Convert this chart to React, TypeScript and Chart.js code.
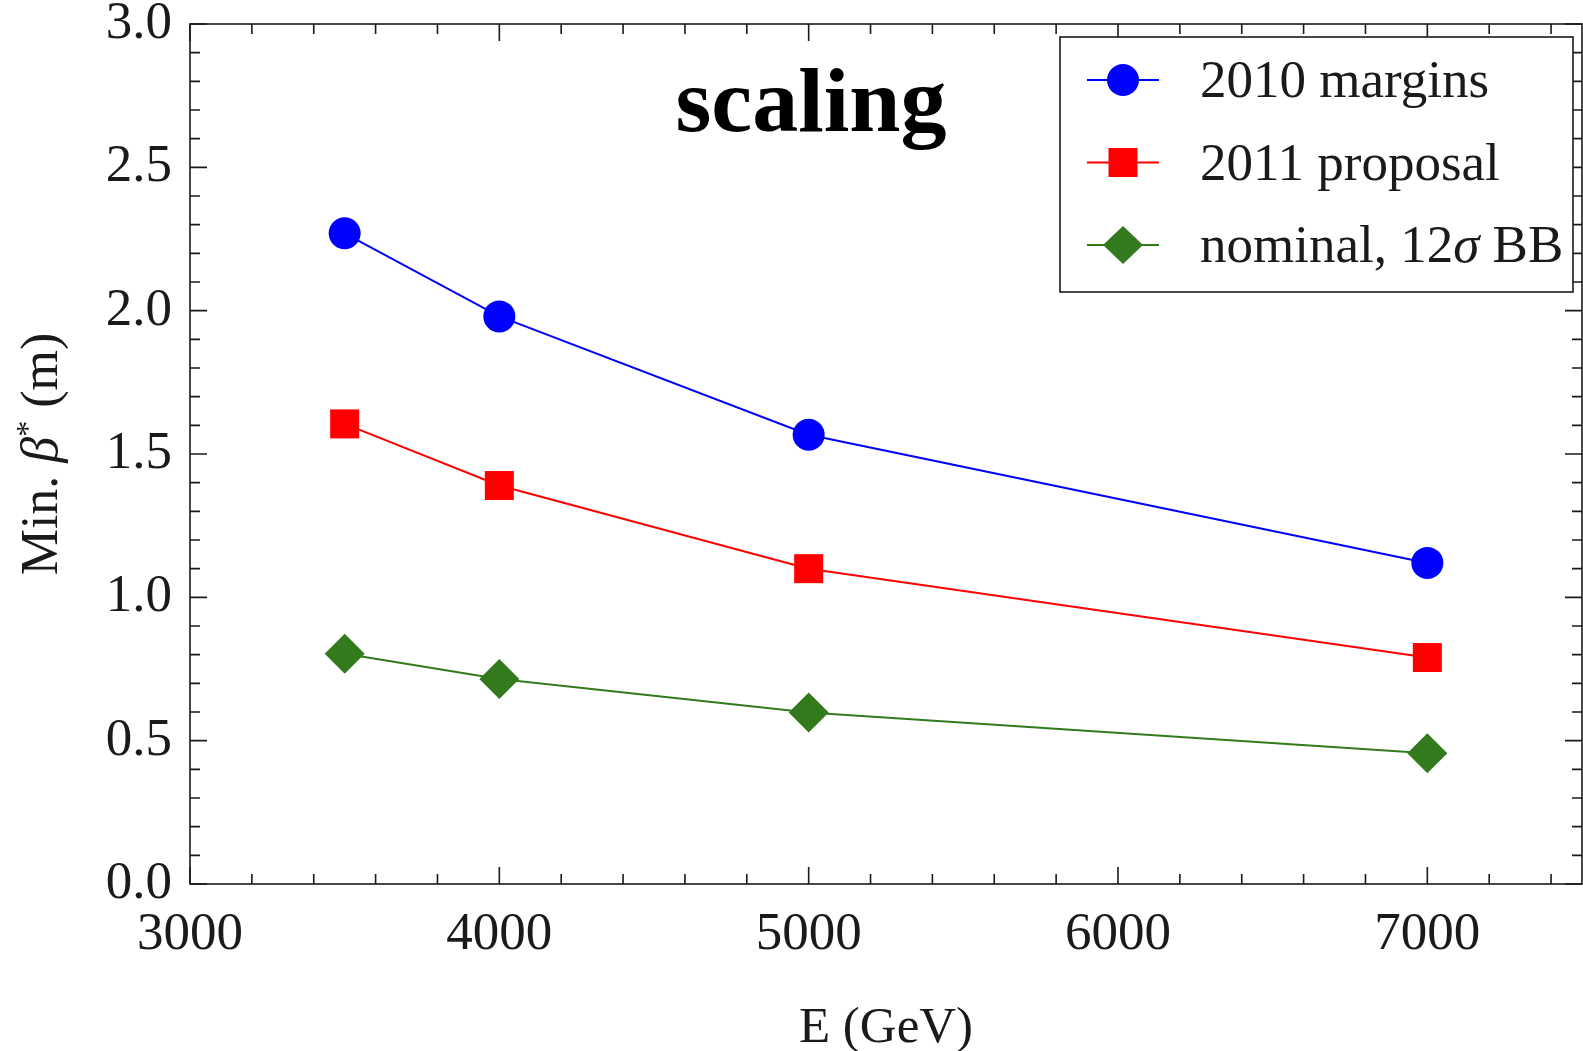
import React, { useEffect, useRef } from 'react';
import { Chart, registerables } from 'chart.js';

Chart.register(...registerables);

// ---- data ----
const energies = [3500, 4000, 5000, 7000];
const margins2010 = [2.27, 1.98, 1.567, 1.12];
const proposal2011 = [1.605, 1.39, 1.1, 0.79];
const nominal12sigma = [0.803, 0.715, 0.598, 0.456];
const seriesNames = ['2010 margins', '2011 proposal', 'nominal, 12σ BB'];
const xTickValues = [3000, 4000, 5000, 6000, 7000];
const yTickValues = [0, 0.5, 1.0, 1.5, 2.0, 2.5, 3.0];
const chartTitle = 'scaling';
const xTitle = 'E (GeV)';
const yTitle = 'Min. β* (m)';

const SERIF = '"Liberation Serif", "Times New Roman", Times, serif';
const INK = '#1a1a1a';
const GREEN = '#327a1c';

type Seg = { text: string; kind: 'n' | 'i' | 's' };

function richSegments(text: string): Seg[] {
  const segs: Seg[] = [];
  for (const ch of text) {
    let kind: Seg['kind'] = 'n';
    if (/[α-ω]/.test(ch)) kind = 'i';
    else if (ch === '*') kind = 's';
    const last = segs[segs.length - 1];
    if (last && last.kind === kind) last.text += ch;
    else segs.push({ text: ch, kind });
  }
  return segs;
}

function fontFor(kind: Seg['kind'], size: number) {
  if (kind === 'i') return `italic ${size}px ${SERIF}`;
  if (kind === 's') return `${Math.round(size * 0.62)}px ${SERIF}`;
  return `${size}px ${SERIF}`;
}

function drawRich(ctx: CanvasRenderingContext2D, text: string, x: number, y: number, size: number, align: 'left' | 'center') {
  const segs = richSegments(text);
  const widths = segs.map((s) => {
    ctx.font = fontFor(s.kind, size);
    return ctx.measureText(s.text).width;
  });
  const total = widths.reduce((a, b) => a + b, 0);
  let cx = align === 'center' ? x - total / 2 : x;
  ctx.textAlign = 'left';
  ctx.textBaseline = 'alphabetic';
  segs.forEach((s, i) => {
    ctx.font = fontFor(s.kind, size);
    ctx.fillText(s.text, cx, s.kind === 's' ? y - size * 0.36 : y);
    cx += widths[i];
  });
}

function drawMarker(ctx: CanvasRenderingContext2D, style: string, x: number, y: number, color: string) {
  ctx.fillStyle = color;
  ctx.beginPath();
  if (style === 'circle') {
    ctx.arc(x, y, 16, 0, Math.PI * 2);
  } else if (style === 'rect') {
    ctx.rect(x - 14.5, y - 14.5, 29, 29);
  } else {
    ctx.moveTo(x - 20, y);
    ctx.lineTo(x, y - 19);
    ctx.lineTo(x + 20, y);
    ctx.lineTo(x, y + 19);
    ctx.closePath();
  }
  ctx.fill();
}

const framePlugin = {
  id: 'frameTicks',
  beforeDatasetsDraw(chart: any) {
    const { ctx, chartArea } = chart;
    const xs = chart.scales.x;
    const ys = chart.scales.y;
    const { left, right, top, bottom } = chartArea;
    ctx.save();
    ctx.strokeStyle = INK;
    ctx.lineWidth = 1.6;
    ctx.beginPath();
    for (let v = 3000; v < 7500; v += 200) {
      const px = xs.getPixelForValue(v);
      const len = v % 1000 === 0 ? 17 : 10;
      ctx.moveTo(px, bottom);
      ctx.lineTo(px, bottom - len);
      ctx.moveTo(px, top);
      ctx.lineTo(px, top + len);
    }
    for (let i = 0; i <= 30; i++) {
      const py = ys.getPixelForValue(i / 10);
      const len = i % 5 === 0 ? 17 : 10;
      ctx.moveTo(left, py);
      ctx.lineTo(left + len, py);
      ctx.moveTo(right, py);
      ctx.lineTo(right - len, py);
    }
    ctx.stroke();
    ctx.strokeRect(left, top, right - left, bottom - top);
    ctx.restore();
  },
};

const textPlugin = {
  id: 'textAndLegend',
  afterDraw(chart: any) {
    const { ctx, chartArea } = chart;
    ctx.save();
    ctx.fillStyle = '#000';
    // title
    ctx.font = `bold 92px ${SERIF}`;
    ctx.textAlign = 'center';
    ctx.textBaseline = 'alphabetic';
    ctx.fillText(chartTitle, 811, 131);
    // x title
    ctx.fillStyle = INK;
    drawRich(ctx, xTitle, (chartArea.left + chartArea.right) / 2, 1042, 51, 'center');
    // y title
    ctx.save();
    ctx.translate(57, (chartArea.top + chartArea.bottom) / 2);
    ctx.rotate(-Math.PI / 2);
    drawRich(ctx, yTitle, 0, 0, 52, 'center');
    ctx.restore();

    // legend
    const bx = 1060, by = 37, bw = 513, bh = 255;
    ctx.fillStyle = '#fff';
    ctx.fillRect(bx, by, bw, bh);
    ctx.strokeStyle = INK;
    ctx.lineWidth = 1.6;
    ctx.strokeRect(bx, by, bw, bh);
    chart.data.datasets.forEach((ds: any, i: number) => {
      const ry = by + 43 + i * 82.5;
      ctx.strokeStyle = ds.borderColor;
      ctx.lineWidth = 2;
      ctx.beginPath();
      ctx.moveTo(1087, ry);
      ctx.lineTo(1159, ry);
      ctx.stroke();
      drawMarker(ctx, ds.pointStyle, 1123, ry, ds.backgroundColor);
      ctx.fillStyle = INK;
      drawRich(ctx, ds.label, 1200, ry + 17, 53, 'left');
    });
    ctx.restore();
  },
};

export default function App() {
  const ref = useRef<HTMLCanvasElement | null>(null);
  useEffect(() => {
    if (!ref.current) return;
    const mk = (vals: number[]) => energies.map((x, i) => ({ x, y: vals[i] }));
    const tickFont = { family: SERIF, size: 53 };
    const chart = new Chart(ref.current, {
      type: 'line',
      data: {
        datasets: [
          {
            label: seriesNames[0],
            data: mk(margins2010),
            borderColor: '#0000ff',
            backgroundColor: '#0000ff',
            pointStyle: 'circle',
            pointRadius: 16,
            pointBorderWidth: 0,
            borderWidth: 2,
          },
          {
            label: seriesNames[1],
            data: mk(proposal2011),
            borderColor: '#ff0000',
            backgroundColor: '#ff0000',
            pointStyle: 'rect',
            pointRadius: 20.5,
            pointBorderWidth: 0,
            borderWidth: 2,
          },
          {
            label: seriesNames[2],
            data: mk(nominal12sigma),
            borderColor: GREEN,
            backgroundColor: GREEN,
            pointStyle: 'rectRot',
            pointRadius: 20,
            pointBorderWidth: 0,
            borderWidth: 2,
          },
        ] as any,
      },
      options: {
        responsive: false,
        animation: false,
        layout: { autoPadding: false, padding: { top: 24, right: 1, left: 0, bottom: 0 } },
        plugins: {
          legend: { display: false },
          tooltip: { enabled: false },
          title: { display: false },
        },
        scales: {
          x: {
            type: 'linear',
            min: 3000,
            max: 7500,
            afterBuildTicks: (s: any) => {
              s.ticks = xTickValues.map((value) => ({ value }));
            },
            afterFit: (s: any) => {
              s.height = 167;
              s.paddingLeft = 0;
              s.paddingRight = 0;
            },
            grid: { display: false, drawTicks: false },
            border: { display: false },
            ticks: {
              autoSkip: false,
              maxRotation: 0,
              padding: 19,
              color: INK,
              font: tickFont,
              callback: (v: any) => String(v),
            },
          },
          y: {
            type: 'linear',
            min: 0,
            max: 3,
            afterBuildTicks: (s: any) => {
              s.ticks = yTickValues.map((value) => ({ value }));
            },
            afterFit: (s: any) => {
              s.width = 190;
              s.paddingTop = 0;
              s.paddingBottom = 0;
            },
            grid: { display: false, drawTicks: false },
            border: { display: false },
            ticks: {
              autoSkip: false,
              padding: 18,
              color: INK,
              font: tickFont,
              callback: (v: any) => Number(v).toFixed(1),
            },
          },
        },
      } as any,
      plugins: [framePlugin, textPlugin],
    });
    return () => chart.destroy();
  }, []);
  return (
    <div style={{ position: 'fixed', left: 0, top: 0, width: 1583, height: 1051, background: '#fff' }}>
      <canvas ref={ref} width={1583} height={1051} style={{ display: 'block' }} />
    </div>
  );
}
